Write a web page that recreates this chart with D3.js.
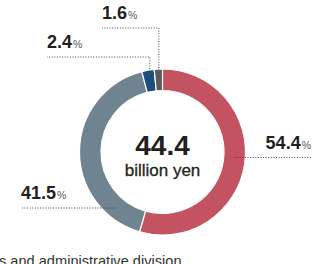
<!DOCTYPE html>
<html>
<head>
<meta charset="utf-8">
<script src="https://cdn.jsdelivr.net/npm/d3@7"></script>
<style>
  body { margin: 0; background: #fff; }
  svg { display: block; font-family: "Liberation Sans", Arial, sans-serif; }
</style>
</head>
<body>
<script>
const width = 327,
  height = 264;

// data, clockwise from 12 o'clock
const categories = ["A", "B", "C", "D"];
const shares = [54.4, 41.5, 2.4, 1.6];
const colors = ["#c35360", "#6f8490", "#1c4f80", "#5a5b5c"];
const totalValue = "44.4";
const totalUnit = "billion yen";
const footText = "s and administrative division";

const cx = 162.5,
  cy = 152;
const outerR = 83,
  innerR = 61.5,
  midR = (outerR + innerR) / 2;

// label layout: where the leader line leaves the ring and where the text sits
const labelLayout = [
  { angle: 95.5, lineY: 157.5, endX: 311, anchor: "end" },
  { angle: 219.5, lineY: 208, endX: 21, anchor: "start" },
  { angle: null, lineY: 57, endX: 47, anchor: "start" },
  { angle: null, lineY: 28, endX: 102, anchor: "start" }
];

const svg = d3
  .select("body")
  .append("svg")
  .attr("width", width)
  .attr("height", height);

const pie = d3.pie().sort(null).value(d => d);
const arcs = pie(shares);

const arc = d3.arc().innerRadius(innerR).outerRadius(outerR);

const g = svg.append("g").attr("transform", `translate(${cx},${cy})`);

g.selectAll("path")
  .data(arcs)
  .enter()
  .append("path")
  .attr("d", arc)
  .attr("fill", (d, i) => colors[i])
  .attr("stroke", "#fff")
  .attr("stroke-width", 1.2);

// centre text
g.append("text")
  .attr("text-anchor", "middle")
  .attr("y", 3)
  .attr("font-size", 28)
  .attr("font-weight", "bold")
  .attr("fill", "#231f20")
  .text(totalValue);

g.append("text")
  .attr("text-anchor", "middle")
  .attr("y", 23.5)
  .attr("font-size", 17)
  .attr("fill", "#231f20")
  .attr("stroke", "#231f20")
  .attr("stroke-width", 0.3)
  .text(totalUnit);

// leader lines and labels
const toXY = deg => {
  const a = (deg * Math.PI) / 180;
  return [cx + midR * Math.sin(a), cy - midR * Math.cos(a)];
};

arcs.forEach((d, i) => {
  const L = labelLayout[i];
  let pts;
  if (L.angle !== null) {
    const [x0] = toXY(L.angle);
    pts = [[x0, L.lineY], [L.endX, L.lineY]];
  } else {
    const [x0, y0] = arc.centroid(d);
    pts = [[cx + x0, cy + y0 - 4], [cx + x0, L.lineY], [L.endX, L.lineY]];
  }
  svg.append("path")
    .attr("d", d3.line()(pts))
    .attr("fill", "none")
    .attr("stroke", "#444")
    .attr("stroke-width", 1)
    .attr("stroke-dasharray", "1,1.6");

  const t = svg.append("text")
    .attr("x", L.endX)
    .attr("y", L.lineY - 9)
    .attr("text-anchor", L.anchor)
    .attr("fill", "#231f20");
  t.append("tspan")
    .attr("font-size", 18)
    .attr("font-weight", "bold")
    .text(shares[i].toFixed(1));
  t.append("tspan")
    .attr("font-size", 10.5)
    .attr("dx", 1)
    .attr("fill", "#555")
    .text("%");
});

// footer (cut off at the left and bottom, as in the source)
svg.append("text")
  .attr("x", -1)
  .attr("y", 265.5)
  .attr("font-size", 14.6)
  .attr("fill", "#333")
  .text(footText);
</script>
</body>
</html>
